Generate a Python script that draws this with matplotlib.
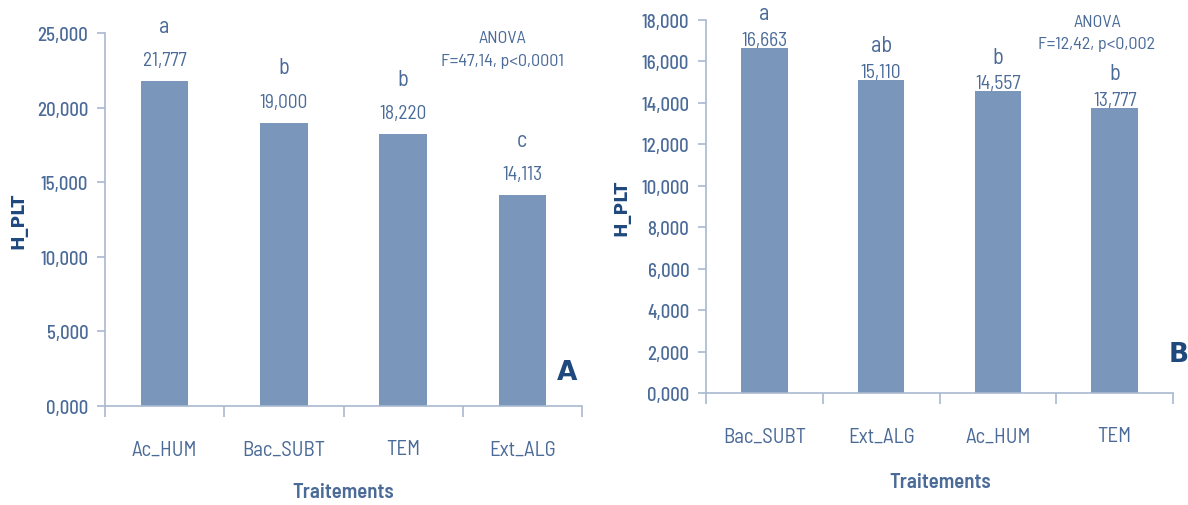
import matplotlib
matplotlib.use("Agg")
import matplotlib.pyplot as plt
from matplotlib.ticker import FuncFormatter

plt.rcParams['font.family'] = ['Barlow Semi Condensed', 'DejaVu Sans']

# panneau A
cat_a = ["Ac_HUM", "Bac_SUBT", "TEM", "Ext_ALG"]
val_a = [21.777, 19.000, 18.220, 14.113]
lettre_a = ["a", "b", "b", "c"]
anova_a = "ANOVA\nF=47,14, p<0,0001"

# panneau B
cat_b = ["Bac_SUBT", "Ext_ALG", "Ac_HUM", "TEM"]
val_b = [16.663, 15.110, 14.557, 13.777]
lettre_b = ["a", "ab", "b", "b"]
anova_b = "ANOVA\nF=12,42, p<0,002"

barre = "#7a96bb"
texte = "#4a6a98"
fonce = "#1f497d"
axe = "#a9b9d0"

W, H = 1188, 506
fig = plt.figure(figsize=(W / 100, H / 100), dpi=100)
ax1 = fig.add_axes([105 / W, 1 - 407 / H, 477 / W, 373 / H])
ax2 = fig.add_axes([706 / W, 1 - 394 / H, 467 / W, 373 / H])


def virgule(v, pos=None):
    return ("%.3f" % v).replace(".", ",")


def panneau(ax, cats, vals, lettres, ymax, pas, off_val, off_let):
    x = range(len(cats))
    ax.bar(x, vals, width=0.4, color=barre)
    ax.set_xlim(-0.5, len(cats) - 0.5)
    ax.set_ylim(0, ymax)
    ax.set_yticks([i * pas for i in range(int(round(ymax / pas)) + 1)])
    ax.yaxis.set_major_formatter(FuncFormatter(virgule))
    ax.set_xticks(list(x))
    ax.set_xticklabels(cats)
    ax.set_xticks([i - 0.5 for i in range(len(cats) + 1)], minor=True)
    ax.tick_params(axis='x', which='major', length=0, pad=24, labelsize=15, labelcolor=texte)
    ax.tick_params(axis='x', which='minor', length=8, color=axe, width=1.2)
    ax.tick_params(axis='y', length=6, color=axe, width=1.2, pad=6, labelsize=13.5, labelcolor=texte)
    for t in ax.get_yticklabels():
        t.set_fontweight("medium")
    for s in ["top", "right"]:
        ax.spines[s].set_visible(False)
    for s in ["left", "bottom"]:
        ax.spines[s].set_color(axe)
        ax.spines[s].set_linewidth(1.2)
    for i, (v, l) in enumerate(zip(vals, lettres)):
        ax.annotate(virgule(v), (i, v), xytext=(0, off_val), textcoords="offset pixels",
                    ha="center", va="center", fontsize=14, color=texte)
        ax.annotate(l, (i, v), xytext=(0, off_let), textcoords="offset pixels",
                    ha="center", va="center", fontsize=16, color=texte)


panneau(ax1, cat_a, val_a, lettre_a, 25, 5, 21, 55)
panneau(ax2, cat_b, val_b, lettre_b, 18, 2, 8, 34)

# titres des axes
fig.text(18 / W, 1 - 221 / H, "H_PLT", rotation=90, ha="center", va="center",
         fontsize=12.5, fontweight="bold", color=fonce, family="DejaVu Sans")
fig.text(621 / W, 1 - 208 / H, "H_PLT", rotation=90, ha="center", va="center",
         fontsize=12.5, fontweight="bold", color=fonce, family="DejaVu Sans")
fig.text(343 / W, 1 - 493 / H, "Traitements", ha="center", va="center",
         fontsize=15, fontweight="semibold", color=texte)
fig.text(940 / W, 1 - 482 / H, "Traitements", ha="center", va="center",
         fontsize=15, fontweight="semibold", color=texte)

fig.text(502 / W, 1 - 50 / H, anova_a, ha="center", va="center",
         fontsize=13, color=texte, linespacing=1.6)
fig.text(1097 / W, 1 - 33.5 / H, anova_b, ha="center", va="center",
         fontsize=13, color=texte, linespacing=1.6)
fig.text(567 / W, 1 - 373 / H, "A", ha="center", va="center",
         fontsize=19, fontweight="bold", color=fonce, family="DejaVu Sans")
fig.text(1179 / W, 1 - 355 / H, "B", ha="center", va="center",
         fontsize=19, fontweight="bold", color=fonce, family="DejaVu Sans")

fig.savefig("out.png", dpi=100)
